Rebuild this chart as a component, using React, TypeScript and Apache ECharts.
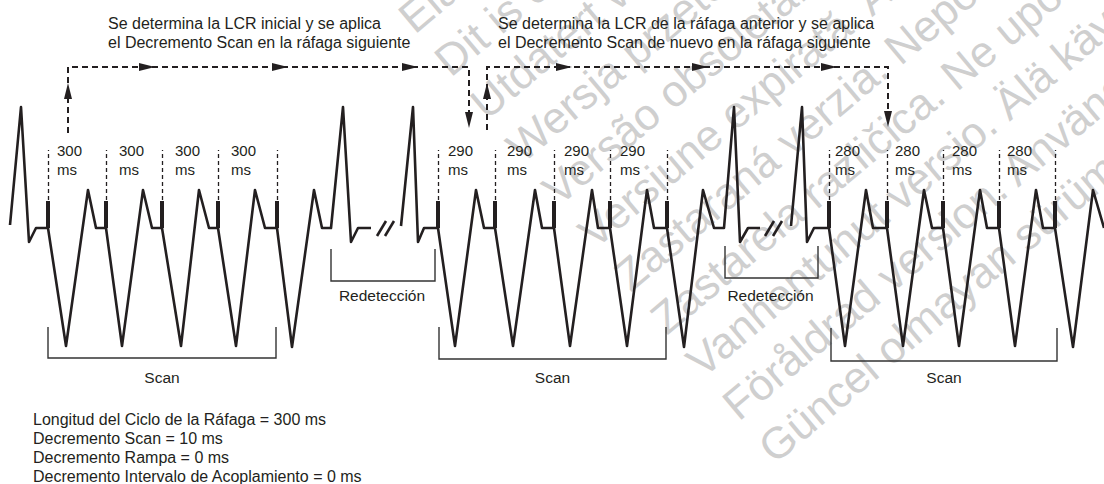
import React, { useEffect, useRef } from 'react';
import * as echarts from 'echarts';

const INK = '#231f20';
const FONT = '"Liberation Sans", Arial, Helvetica, sans-serif';

// ---- Data (strip position, amplitude; amplitude axis inverted) ----
const strip1: number[][] = [
  [10, 225], [21, 107], [29, 242], [36, 228], [48, 228], [66, 346], [88, 190], [96, 228], [106, 228],
  [122, 346], [143, 190], [152, 228], [162, 228], [181, 346], [199, 190], [209, 228], [218, 228],
  [236, 346], [255, 190], [265, 228], [277, 228], [292, 347], [314, 190], [322, 228], [331, 228],
  [343, 107], [351, 242], [358, 228], [371, 228],
];
const strip2: number[][] = [
  [401, 226], [413, 107], [418, 242], [424, 228], [438, 228], [455, 346], [476, 190], [484, 228], [495, 228],
  [513, 346], [535, 190], [542, 228], [554, 228], [570, 346], [592, 190], [598, 228], [610, 228],
  [627, 346], [647, 190], [654, 228], [667, 228], [684, 347], [703, 190], [714, 228], [724, 228],
  [734, 107], [740, 242], [748, 228], [760, 228],
];
const strip3: number[][] = [
  [791, 226], [802, 107], [807, 242], [814, 228], [829, 228], [845, 346], [866, 190], [873, 228], [887, 228],
  [903, 346], [924, 190], [932, 228], [943, 228], [959, 346], [980, 190], [987, 228], [999, 228],
  [1015, 346], [1036, 190], [1043, 228], [1055, 228], [1073, 347], [1093, 190], [1104, 228],
];

const burstSpikes: number[][] = [
  [48, 106, 162, 218, 277],
  [438, 495, 554, 610, 667],
  [829, 887, 943, 999, 1055],
];
const cycleLengths = [300, 290, 280];
const labelNudge: number[][] = [
  [9, 13, 13, 13],
  [10, 12, 10, 10],
  [6, 8, 9, 8],
];

const breakMarks: number[][][] = [
  [[377, 236], [386, 221]], [[385, 236], [394, 221]],
  [[765, 236], [774, 221]], [[773, 236], [782, 221]],
];

// [left, right, top, bottom]
const scanBrackets: number[][] = [
  [48, 276, 327, 358],
  [439, 666, 327, 359],
  [831, 1057, 328, 361],
];
const redetBrackets: number[][] = [
  [331, 435, 249, 281],
  [725, 818, 246, 278],
];

const loopPaths: number[][][] = [
  [[68, 133], [68, 67], [469, 67], [469, 118]],
  [[487, 130], [487, 67], [888, 67], [888, 117]],
];
// arrow tips: [x, y, direction]
const arrowTips: [number, number, string][] = [
  [155, 67, 'right'], [288, 67, 'right'], [418, 67, 'right'],
  [572, 67, 'right'], [708, 67, 'right'], [837, 67, 'right'],
  [68, 83, 'up'], [487, 83, 'up'],
  [469, 128, 'down'], [888, 127, 'down'],
];

const topNotes = [
  ['Se determina la LCR inicial y se aplica', 'el Decremento Scan en la ráfaga siguiente'],
  ['Se determina la LCR de la ráfaga anterior y se aplica', 'el Decremento Scan de nuevo en la ráfaga siguiente'],
];
const settingsNotes = [
  'Longitud del Ciclo de la Ráfaga = 300 ms',
  'Decremento Scan = 10 ms',
  'Decremento Rampa = 0 ms',
  'Decremento Intervalo de Acoplamiento = 0 ms',
];
const watermarkLines = [
  'Elavult verzió. Ne használja!',
  'Dit is een verouderde versie. Niet gebruiken.',
  'Utdatert versjon. Skal ikke brukes.',
  'Wersja przeterminowana. Nie używać.',
  'Versão obsoleta. Não utilize.',
  'Versiune expirată. A nu se utiliza.',
  'Zastaraná verzia. Nepoužívať.',
  'Zastarela različica. Ne uporabite.',
  'Vanhentunut versio. Älä käytä.',
  'Föråldrad version. Använd ej.',
  'Güncel olmayan sürüm. Kullanmayın.',
];

function buildOption() {
  const spikeSegs: any[] = [];
  const markerSegs: any[] = [];
  const graphics: any[] = [];

  // watermark
  const ang = (40 * Math.PI) / 180;
  watermarkLines.forEach((t, k) => {
    const bx = 773 - 36 * (10 - k);
    const by = 463 - 43 * (10 - k);
    graphics.push({
      type: 'text',
      x: bx + 6,
      y: by + 7,
      rotation: ang,
      z: -10,
      silent: true,
      style: {
        text: t,
        fontSize: 44,
        fontFamily: FONT,
        fill: '#cfcfcf',
        textAlign: 'left',
        textVerticalAlign: 'bottom',
      },
    });
  });

  burstSpikes.forEach((spikes, b) => {
    spikes.forEach((x, i) => {
      spikeSegs.push({ coords: [[x, 228], [x, 201]] });
      markerSegs.push({ coords: [[x, 200], [x, 150]] });
      if (i < spikes.length - 1) {
        graphics.push({
          type: 'text',
          x: x + labelNudge[b][i],
          y: 159.5,
          z: 50,
          style: {
            text: `${cycleLengths[b]}\nms`,
            fontSize: 15,
            lineHeight: 19,
            fontFamily: FONT,
            fill: INK,
            textAlign: 'left',
            textVerticalAlign: 'middle',
          },
        });
      }
    });
  });

  const bracketSegs: any[] = [];
  scanBrackets.forEach(([l, r, t, btm]) => {
    bracketSegs.push({ coords: [[l, t], [l, btm], [r, btm], [r, t]] });
    graphics.push({
      type: 'text', x: (l + r) / 2, y: 377, z: 50,
      style: { text: 'Scan', fontSize: 15.5, fontFamily: FONT, fill: INK, textAlign: 'center', textVerticalAlign: 'middle' },
    });
  });
  redetBrackets.forEach(([l, r, t, btm]) => {
    bracketSegs.push({ coords: [[l, t], [l, btm], [r, btm], [r, t]] });
    graphics.push({
      type: 'text', x: (l + r) / 2 - 1, y: 295, z: 50,
      style: { text: 'Redetección', fontSize: 15.5, fontFamily: FONT, fill: INK, textAlign: 'center', textVerticalAlign: 'middle' },
    });
  });

  const topX = [108, 498];
  topNotes.forEach((lines, i) => {
    lines.forEach((t, j) => {
      graphics.push({
        type: 'text', x: topX[i], y: 23 + j * 19, z: 50,
        style: { text: t, fontSize: 16, fontFamily: FONT, fill: INK, textAlign: 'left', textVerticalAlign: 'middle' },
      });
    });
  });
  settingsNotes.forEach((t, j) => {
    graphics.push({
      type: 'text', x: 33, y: 419.4 + j * 19, z: 50,
      style: { text: t, fontSize: 16, fontFamily: FONT, fill: INK, textAlign: 'left', textVerticalAlign: 'middle' },
    });
  });

  const headData = arrowTips.map(([x, y, d]) => {
    const half = 8;
    let cx = x, cy = y, rot = 0;
    if (d === 'right') { cx = x - half; rot = -90; }
    if (d === 'up') { cy = y + half; rot = 0; }
    if (d === 'down') { cy = y - half; rot = 180; }
    return { value: [cx, cy], symbolRotate: rot };
  });

  const stripSeries = [strip1, strip2, strip3].map((d) => ({
    type: 'line',
    data: d,
    showSymbol: false,
    symbol: 'none',
    silent: true,
    z: 5,
    lineStyle: { color: INK, width: 2.6, join: 'round' },
  }));

  return {
    animation: false,
    grid: { left: 0, right: 0, top: 0, bottom: 0 },
    xAxis: { type: 'value', min: 0, max: 1104, show: false },
    yAxis: { type: 'value', min: 0, max: 484, inverse: true, show: false },
    graphic: graphics,
    series: [
      ...stripSeries,
      {
        type: 'lines', coordinateSystem: 'cartesian2d', silent: true, z: 6,
        data: spikeSegs,
        lineStyle: { color: INK, width: 4, opacity: 1 },
      },
      {
        type: 'lines', coordinateSystem: 'cartesian2d', silent: true, z: 4,
        data: markerSegs,
        lineStyle: { color: INK, width: 1.3, type: [4, 3], opacity: 1 },
      },
      {
        type: 'lines', coordinateSystem: 'cartesian2d', silent: true, z: 6,
        data: breakMarks.map((c) => ({ coords: c })),
        lineStyle: { color: INK, width: 2.6, opacity: 1 },
      },
      {
        type: 'lines', coordinateSystem: 'cartesian2d', polyline: true, silent: true, z: 4,
        data: bracketSegs,
        lineStyle: { color: '#333333', width: 1.4, opacity: 1 },
      },
      {
        type: 'lines', coordinateSystem: 'cartesian2d', polyline: true, silent: true, z: 4,
        data: loopPaths.map((c) => ({ coords: c })),
        lineStyle: { color: INK, width: 2, type: [6, 4], opacity: 1 },
      },
      {
        type: 'scatter', silent: true, z: 7,
        symbol: 'triangle',
        symbolSize: [8, 16],
        itemStyle: { color: INK, opacity: 1 },
        data: headData,
      },
    ],
  };
}

export default function App() {
  const ref = useRef<HTMLDivElement>(null);
  useEffect(() => {
    if (!ref.current) return;
    const chart = echarts.init(ref.current, undefined, { renderer: 'svg' });
    chart.setOption(buildOption() as any);
    return () => chart.dispose();
  }, []);
  return (
    <div
      ref={ref}
      style={{ position: 'absolute', left: 0, top: 0, width: 1104, height: 484, background: '#ffffff' }}
    />
  );
}
